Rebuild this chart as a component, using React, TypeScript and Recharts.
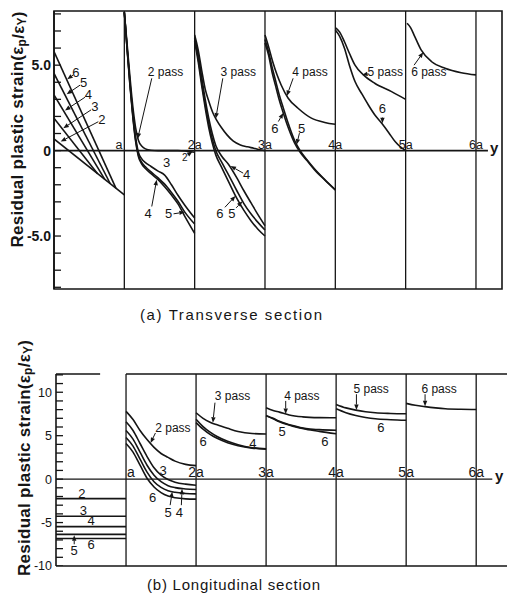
import React from "react"
import {
  LineChart,
  Line,
  XAxis,
  YAxis,
  ReferenceLine,
  ReferenceDot,
  ReferenceArea,
} from "recharts"

type Pt = [number, number]
type Note = [string, number, number, number?]

const INK = "#151515"
const FONT = "'Liberation Sans', Arial, sans-serif"

// ---------- (a) transverse section, x in units of a ----------
// 0..a : straight lines for passes 2-6
const trFlank2: Pt[] = [[0, 0.68], [1.0, -2.59]]
const trFlank3: Pt[] = [[0, 1.89], [0.62, -1.35]]
const trFlank4: Pt[] = [[0, 3.26], [0.72, -1.67]]
const trFlank5: Pt[] = [[0, 4.52], [0.8, -1.94]]
const trFlank6: Pt[] = [[0, 5.79], [0.88, -2.2]]

// a..2a
const trX1 = [1.0, 1.04, 1.08, 1.12, 1.16, 1.2, 1.25, 1.3, 1.38, 1.48, 1.57, 1.67, 1.76, 1.86, 2.0]
const tr1Pass2 = [8.1, 6.2, 4.3, 2.6, 1.35, 0.6, 0.25, 0.1, 0.02, 0, 0, 0, 0, -0.02, -0.1]
const tr1Pass3 = [8.1, 6.0, 4.0, 2.2, 0.8, -0.1, -0.5, -0.7, -0.93, -1.2, -1.42, -2.0, -2.6, -3.2, -3.95]
const tr1Pass4 = [8.1, 5.9, 3.8, 2.0, 0.55, -0.35, -0.8, -1.05, -1.35, -1.7, -2.1, -2.6, -3.1, -3.85, -4.85]
const tr1Pass5 = [8.1, 5.95, 3.9, 2.1, 0.65, -0.25, -0.7, -0.95, -1.25, -1.6, -1.95, -2.45, -2.95, -3.6, -4.3]

// 2a..3a
const trX2a = [2.0, 2.05, 2.1, 2.15, 2.2, 2.26, 2.31, 2.38, 2.46, 2.55, 2.65, 2.75, 2.84, 2.95, 3.0]
const tr2Pass3 = [6.77, 5.9, 4.7, 3.6, 2.9, 2.2, 1.8, 1.35, 0.92, 0.55, 0.33, 0.22, 0.14, 0.03, 0]
const trX2b = [2.0, 2.05, 2.1, 2.15, 2.2, 2.25, 2.3, 2.38, 2.48, 2.6, 2.7, 2.8, 2.9, 3.0]
const tr2Pass4 = [6.6, 5.6, 4.3, 3.0, 1.9, 1.0, 0.3, -0.3, -0.8, -1.6, -2.35, -3.05, -3.75, -4.4]
const tr2Pass5 = [6.5, 5.4, 4.0, 2.7, 1.6, 0.7, 0.0, -0.65, -1.4, -2.35, -3.1, -3.7, -4.2, -4.65]
const tr2Pass6 = [6.4, 5.2, 3.8, 2.5, 1.35, 0.45, -0.25, -0.95, -1.8, -2.8, -3.5, -4.1, -4.6, -5.0]

// 3a..4a
const trX3a = [3.0, 3.05, 3.11, 3.17, 3.23, 3.33, 3.47, 3.66, 3.85, 4.0]
const tr3Pass4 = [6.77, 6.1, 5.2, 4.45, 3.84, 3.06, 2.48, 1.9, 1.65, 1.54]
const trX3b = [3.0, 3.05, 3.1, 3.15, 3.2, 3.26, 3.33, 3.42, 3.5, 3.6, 3.7, 3.85, 4.0]
const tr3Pass5 = [6.5, 5.8, 4.9, 4.1, 3.3, 2.5, 1.6, 0.6, 0.0, -0.55, -1.05, -1.7, -2.3]
const tr3Pass6 = [6.3, 5.6, 4.6, 3.8, 3.0, 2.2, 1.35, 0.45, -0.1, -0.6, -1.1, -1.72, -2.3]

// 4a..5a
const trX4a = [4.0, 4.06, 4.13, 4.2, 4.28, 4.4, 4.56, 4.8, 5.0]
const tr4Pass5 = [7.2, 6.95, 6.37, 5.7, 5.0, 4.43, 3.94, 3.45, 3.0]
const trX4b = [4.0, 4.06, 4.13, 4.2, 4.28, 4.38, 4.47, 4.56, 4.66, 4.76, 4.85, 4.93, 5.0]
const tr4Pass6 = [7.06, 6.7, 5.99, 5.0, 4.04, 3.3, 2.67, 2.1, 1.6, 1.05, 0.53, 0.2, 0]

// 5a..6a
const trX5 = [5.02, 5.07, 5.13, 5.22, 5.37, 5.56, 5.79, 6.0]
const tr5Pass6 = [7.45, 7.2, 6.67, 5.89, 5.2, 4.82, 4.56, 4.43]

// ---------- (b) longitudinal section ----------
// 0..a : constant level per pass (2..6)
const lgFlank = [-2.24, -4.27, -5.47, -6.36, -6.83]

// a..2a
const lgX1 = [1.0, 1.1, 1.2, 1.3, 1.4, 1.5, 1.6, 1.7, 1.85, 2.0]
const lg1Pass2 = [7.8, 6.86, 5.6, 4.55, 3.65, 2.95, 2.5, 2.07, 1.7, 1.55]
const lg1Pass3 = [6.6, 5.6, 4.1, 2.6, 1.3, 0.45, -0.05, -0.35, -0.58, -0.7]
const lg1Pass4 = [5.6, 4.6, 3.1, 1.6, 0.45, -0.3, -0.75, -0.98, -1.13, -1.2]
const lg1Pass5 = [4.8, 3.8, 2.3, 0.8, -0.3, -0.95, -1.33, -1.52, -1.65, -1.7]
const lg1Pass6 = [4.1, 3.1, 1.6, 0.1, -0.9, -1.55, -1.95, -2.15, -2.27, -2.3]

// 2a..3a
const lgX2 = [2.0, 2.1, 2.2, 2.3, 2.45, 2.6, 2.8, 3.0]
const lg2Pass3 = [7.64, 7.0, 6.55, 6.25, 5.85, 5.48, 5.25, 5.2]
const lg2Pass4 = [6.9, 6.05, 5.4, 4.9, 4.35, 3.95, 3.62, 3.5]
const lg2Pass6 = [6.5, 5.75, 5.15, 4.7, 4.2, 3.85, 3.57, 3.45]

// 3a..4a
const lgX3a = [3.0, 3.1, 3.19, 3.33, 3.52, 3.76, 4.0]
const lg3Pass4 = [8.22, 7.9, 7.71, 7.38, 7.17, 7.08, 7.06]
const lgX3b = [3.0, 3.1, 3.19, 3.38, 3.57, 3.76, 4.0]
const lg3Pass5 = [7.33, 7.0, 6.66, 6.16, 5.81, 5.7, 5.62]
const lg3Pass6 = [7.28, 6.95, 6.6, 6.1, 5.75, 5.5, 5.23]

// 4a..5a
const lgX4 = [4.0, 4.14, 4.28, 4.42, 4.56, 4.78, 5.0]
const lg4Pass5 = [8.6, 8.2, 7.94, 7.76, 7.64, 7.56, 7.52]
const lg4Pass6 = [8.1, 7.65, 7.33, 7.1, 6.94, 6.84, 6.78]

// 5a..6a
const lgX5 = [5.0, 5.13, 5.27, 5.42, 5.56, 5.78, 6.0]
const lg5Pass6 = [8.72, 8.5, 8.34, 8.2, 8.1, 8.04, 8.02]

const multiples = [1, 2, 3, 4, 5, 6]

// annotation text [label, x, y, fontSize?] and arrows [tail, tip]
const trNotes: Note[] = [
  ["6", 0.31, 4.56], ["5", 0.42, 3.98], ["4", 0.49, 3.26], ["3", 0.58, 2.57], ["2", 0.68, 1.84],
  ["2 pass", 1.586, 4.62, 12], ["2", 1.86, -0.4, 10], ["3", 1.6, -0.7], ["4", 1.34, -3.66], ["5", 1.63, -3.66],
  ["3 pass", 2.62, 4.62, 12], ["4", 2.74, -1.42], ["6", 2.36, -3.66], ["5", 2.53, -3.66],
  ["4 pass", 3.64, 4.62, 12], ["6", 3.14, 1.31], ["5", 3.52, 1.31],
  ["5 pass", 4.71, 4.62, 12], ["6", 4.67, 2.45],
  ["6 pass", 5.33, 4.62, 12],
]
const trArrows: [Pt, Pt][] = [
  [[0.274, 4.43], [0.188, 4.18]],
  [[0.37, 3.83], [0.18, 3.3]],
  [[0.44, 3.12], [0.156, 2.35]],
  [[0.526, 2.38], [0.132, 1.31]],
  [[0.63, 1.69], [0.095, 0.53]],
  [[1.39, 4.23], [1.19, 0.7]],
  [[1.9, -0.25], [1.97, -0.06]],
  [[1.39, -3.27], [1.46, -1.7]],
  [[1.7, -3.7], [1.86, -3.6]],
  [[2.4, 4.23], [2.3, 1.88]],
  [[2.69, -1.32], [2.51, -0.9]],
  [[2.43, -3.32], [2.58, -2.65]],
  [[2.59, -3.35], [2.68, -2.97]],
  [[3.4, 4.23], [3.31, 3.2]],
  [[3.19, 1.7], [3.26, 2.2]],
  [[3.49, 1.02], [3.45, 0.35]],
  [[4.47, 4.5], [4.38, 4.42]],
  [[4.67, 1.95], [4.67, 1.6]],
  [[5.12, 5.0], [5.25, 5.75]],
]

const lgNotes: Note[] = [
  ["2", 0.37, -1.63], ["3", 0.39, -3.6], ["4", 0.5, -4.77], ["5", 0.26, -8.26], ["6", 0.5, -7.56],
  ["2 pass", 1.67, 5.93, 12], ["3", 1.53, 1.05], ["6", 1.38, -2.06], ["5", 1.6, -3.8], ["4", 1.76, -3.8],
  ["3 pass", 2.52, 9.57, 12], ["6", 2.1, 4.34], ["4", 2.81, 4.07],
  ["4 pass", 3.51, 9.57, 12], ["5", 3.23, 5.5], ["6", 3.84, 4.34],
  ["5 pass", 4.5, 10.35, 12], ["6", 4.64, 5.9],
  ["6 pass", 5.47, 10.35, 12],
]
const lgArrows: [Pt, Pt][] = [
  [[0.26, -7.5], [0.26, -6.45]],
  [[1.42, 5.31], [1.35, 4.15]],
  [[1.63, -3.0], [1.66, -1.45]],
  [[1.79, -3.0], [1.8, -1.12]],
  [[2.27, 8.8], [2.24, 6.5]],
  [[3.28, 9.0], [3.28, 7.5]],
  [[4.29, 9.77], [4.29, 7.95]],
  [[5.27, 9.77], [5.27, 8.38]],
]

const pts = (xs: number[], ys: number[]) => xs.map((x, i) => ({ x, y: ys[i] }))
const seg = (p: Pt[]) => p.map(([x, y]) => ({ x, y }))
const range = (a: number, b: number) => Array.from({ length: b - a + 1 }, (_, i) => a + i)

const trCurves = [
  { data: seg(trFlank2), type: "linear" },
  { data: seg(trFlank3), type: "linear" },
  { data: seg(trFlank4), type: "linear" },
  { data: seg(trFlank5), type: "linear" },
  { data: seg(trFlank6), type: "linear" },
  { data: pts(trX1, tr1Pass2), type: "monotone" },
  { data: pts(trX1, tr1Pass3), type: "monotone" },
  { data: pts(trX1, tr1Pass4), type: "monotone" },
  { data: pts(trX1, tr1Pass5), type: "monotone" },
  { data: pts(trX2a, tr2Pass3), type: "monotone" },
  { data: pts(trX2b, tr2Pass4), type: "monotone" },
  { data: pts(trX2b, tr2Pass5), type: "monotone" },
  { data: pts(trX2b, tr2Pass6), type: "monotone" },
  { data: pts(trX3a, tr3Pass4), type: "monotone" },
  { data: pts(trX3b, tr3Pass5), type: "monotone" },
  { data: pts(trX3b, tr3Pass6), type: "monotone" },
  { data: pts(trX4a, tr4Pass5), type: "monotone" },
  { data: pts(trX4b, tr4Pass6), type: "monotone" },
  { data: pts(trX5, tr5Pass6), type: "monotone" },
]

const lgCurves = [
  ...lgFlank.map((v) => ({ data: [{ x: 0, y: v }, { x: 1, y: v }], type: "linear" })),
  { data: pts(lgX1, lg1Pass2), type: "monotone" },
  { data: pts(lgX1, lg1Pass3), type: "monotone" },
  { data: pts(lgX1, lg1Pass4), type: "monotone" },
  { data: pts(lgX1, lg1Pass5), type: "monotone" },
  { data: pts(lgX1, lg1Pass6), type: "monotone" },
  { data: pts(lgX2, lg2Pass3), type: "monotone" },
  { data: pts(lgX2, lg2Pass4), type: "monotone" },
  { data: pts(lgX2, lg2Pass6), type: "monotone" },
  { data: pts(lgX3a, lg3Pass4), type: "monotone" },
  { data: pts(lgX3b, lg3Pass5), type: "monotone" },
  { data: pts(lgX3b, lg3Pass6), type: "monotone" },
  { data: pts(lgX4, lg4Pass5), type: "monotone" },
  { data: pts(lgX4, lg4Pass6), type: "monotone" },
  { data: pts(lgX5, lg5Pass6), type: "monotone" },
]

function arrowShape(p: any) {
  const { x1, y1, x2, y2 } = p
  if ([x1, y1, x2, y2].some((v) => typeof v !== "number")) return <g />
  const ang = Math.atan2(y2 - y1, x2 - x1)
  const bx = x2 - 5.5 * Math.cos(ang)
  const by = y2 - 5.5 * Math.sin(ang)
  const nx = -Math.sin(ang) * 2.2
  const ny = Math.cos(ang) * 2.2
  return (
    <g>
      <line x1={x1} y1={y1} x2={bx} y2={by} stroke={INK} strokeWidth={1} />
      <polygon points={`${x2},${y2} ${bx + nx},${by + ny} ${bx - nx},${by - ny}`} fill={INK} />
    </g>
  )
}

const noteShape = (text: string, size: number) => (p: any) => (
  <text x={p.cx} y={p.cy} textAnchor="middle" dominantBaseline="central"
    fontSize={size} fontFamily={FONT} fill={INK}>
    {text}
  </text>
)

// multiples of a written on the y = 0 line
const markShape = (k: number, panel: "a" | "b") => (p: any) => {
  const single = k === 1
  const anchor = single ? (panel === "a" ? "end" : "start") : "middle"
  const x = single ? (panel === "a" ? p.cx - 2 : p.cx + 1) : p.cx
  return (
    <text x={x} y={p.cy - (panel === "a" ? 1.5 : 2)} textAnchor={anchor}
      fontSize={panel === "a" ? 12.5 : 14} fontFamily={FONT} fill={INK}>
      {single ? "a" : `${k}a`}
    </text>
  )
}

const yMark = (size: number, dy: number) => (p: any) => (
  <text x={p.cx} y={p.cy + dy} fontSize={size} fontWeight="bold" fontFamily={FONT} fill={INK}>y</text>
)

function renderCurves(curves: { data: { x: number; y: number }[]; type: string }[]) {
  return curves.map((c, i) => (
    <Line
      key={`c${i}`}
      data={c.data}
      dataKey="y"
      type={c.type as any}
      stroke={INK}
      strokeWidth={1.6}
      dot={false}
      activeDot={false}
      isAnimationActive={false}
    />
  ))
}

function renderNotes(notes: Note[], arrows: [Pt, Pt][]) {
  return [
    ...notes.map(([t, x, y, s], i) => (
      <ReferenceDot key={`n${i}`} x={x} y={y} r={0} shape={noteShape(t, s ?? 13)} />
    )),
    ...arrows.map(([a, b], i) => (
      <ReferenceLine key={`ar${i}`} segment={[{ x: a[0], y: a[1] }, { x: b[0], y: b[1] }]}
        shape={arrowShape} />
    )),
  ]
}

// inward tick marks on the strain axis: one short level run per unit
const TICK_RUN = 0.1
function renderTicks(values: number[]) {
  return values.map((v) => (
    <Line
      key={`t${v}`}
      data={[{ x: 0, y: v }, { x: TICK_RUN, y: v }]}
      dataKey="y"
      type="linear"
      stroke={INK}
      strokeWidth={1.3}
      dot={false}
      activeDot={false}
      legendType="none"
      isAnimationActive={false}
    />
  ))
}

const TR_X = [0, 6.37]
const TR_Y = [-8.1, 8.17]
const LG_X = [0, 6.44]
const LG_Y = [-10, 12.1]

function AxisTitle({ cx, cy }: { cx: number; cy: number }) {
  return (
    <text transform={`translate(${cx},${cy}) rotate(-90)`} textAnchor="middle"
      dominantBaseline="central" fontSize={17} fontWeight="bold" fontFamily={FONT}
      fill={INK} textLength={236} lengthAdjust="spacing">
      Residual plastic strain(ε
      <tspan fontSize={12} dy={4}>p</tspan>
      <tspan dy={-4}>/ε</tspan>
      <tspan fontSize={12} dy={4}>Y</tspan>
      <tspan dy={-4}>)</tspan>
    </text>
  )
}

export default function App() {
  return (
    <div style={{ position: "absolute", left: 0, top: 0, width: 507, height: 605, background: "#fff" }}>
      <div style={{ position: "absolute", left: 0, top: 0 }}>
        <LineChart width={507} height={300} margin={{ top: 11, right: 5, bottom: 11, left: 10 }}>
          <XAxis type="number" dataKey="x" domain={TR_X} hide allowDataOverflow />
          <YAxis
            type="number"
            domain={TR_Y}
            ticks={[-5, 0, 5]}
            width={44}
            allowDataOverflow
            axisLine={{ stroke: INK, strokeWidth: 1.6 }}
            tickLine={false}
            tickSize={0}
            tickMargin={3}
            tickFormatter={(v: number) => (v === 0 ? "0" : v.toFixed(1))}
            tick={{ fill: INK, fontSize: 14, fontWeight: "bold", fontFamily: FONT }}
          />
          <ReferenceArea x1={TR_X[0]} x2={TR_X[1]} y1={TR_Y[0]} y2={TR_Y[1]}
            fill="none" fillOpacity={0} stroke={INK} strokeWidth={1.6} />
          {multiples.map((k) => (
            <ReferenceLine key={`v${k}`} x={k} stroke={INK} strokeWidth={1.3} />
          ))}
          <ReferenceLine segment={[{ x: 0, y: 0 }, { x: 6.17, y: 0 }]} stroke={INK} strokeWidth={1.6} />
          {renderTicks(range(-8, 8))}
          {renderCurves(trCurves)}
          {multiples.map((k) => (
            <ReferenceDot key={`m${k}`} x={k} y={0} r={0} shape={markShape(k, "a")} />
          ))}
          <ReferenceDot x={6.2} y={0} r={0} shape={yMark(15, 2)} />
          {renderNotes(trNotes, trArrows)}
        </LineChart>
      </div>

      <div style={{ position: "absolute", left: 0, top: 300 }}>
        <LineChart width={507} height={305} margin={{ top: 74, right: 0, bottom: 39, left: 10 }}>
          <XAxis type="number" dataKey="x" domain={LG_X} hide allowDataOverflow />
          <YAxis
            type="number"
            domain={LG_Y}
            ticks={[-10, -5, 0, 5, 10]}
            width={46}
            allowDataOverflow
            axisLine={{ stroke: INK, strokeWidth: 1.6 }}
            tickLine={false}
            tickSize={0}
            tickMargin={4}
            tick={{ fill: INK, fontSize: 12.5, fontFamily: FONT }}
          />
          <ReferenceLine segment={[{ x: 0, y: LG_Y[1] }, { x: 0.63, y: LG_Y[1] }]} stroke={INK} strokeWidth={1.6} />
          <ReferenceLine segment={[{ x: 1, y: LG_Y[1] }, { x: LG_X[1], y: LG_Y[1] }]} stroke={INK} strokeWidth={1.6} />
          <ReferenceLine y={LG_Y[0]} stroke={INK} strokeWidth={1.6} />
          {multiples.map((k) => (
            <ReferenceLine key={`v${k}`} x={k} stroke={INK} strokeWidth={1.3} />
          ))}
          <ReferenceLine segment={[{ x: 0, y: 0 }, { x: 6.23, y: 0 }]} stroke={INK} strokeWidth={1.3} />
          {renderTicks(range(-10, 12))}
          {renderCurves(lgCurves)}
          {multiples.map((k) => (
            <ReferenceDot key={`m${k}`} x={k} y={0} r={0} shape={markShape(k, "b")} />
          ))}
          <ReferenceDot x={6.27} y={0} r={0} shape={yMark(15, 2)} />
          {renderNotes(lgNotes, lgArrows)}
        </LineChart>
      </div>

      <svg width={507} height={605} style={{ position: "absolute", left: 0, top: 0, pointerEvents: "none" }}>
        <AxisTitle cx={17.5} cy={129.5} />
        <AxisTitle cx={24} cy={458} />
        <text x={231} y={314} textAnchor="middle" dominantBaseline="central" fontSize={15}
          fontFamily={FONT} fill={INK} textLength={182} lengthAdjust="spacing">
          (a) Transverse section
        </text>
        <text x={233.5} y={584} textAnchor="middle" dominantBaseline="central" fontSize={15}
          fontFamily={FONT} fill={INK} textLength={173} lengthAdjust="spacing">
          (b) Longitudinal section
        </text>
      </svg>
    </div>
  )
}
